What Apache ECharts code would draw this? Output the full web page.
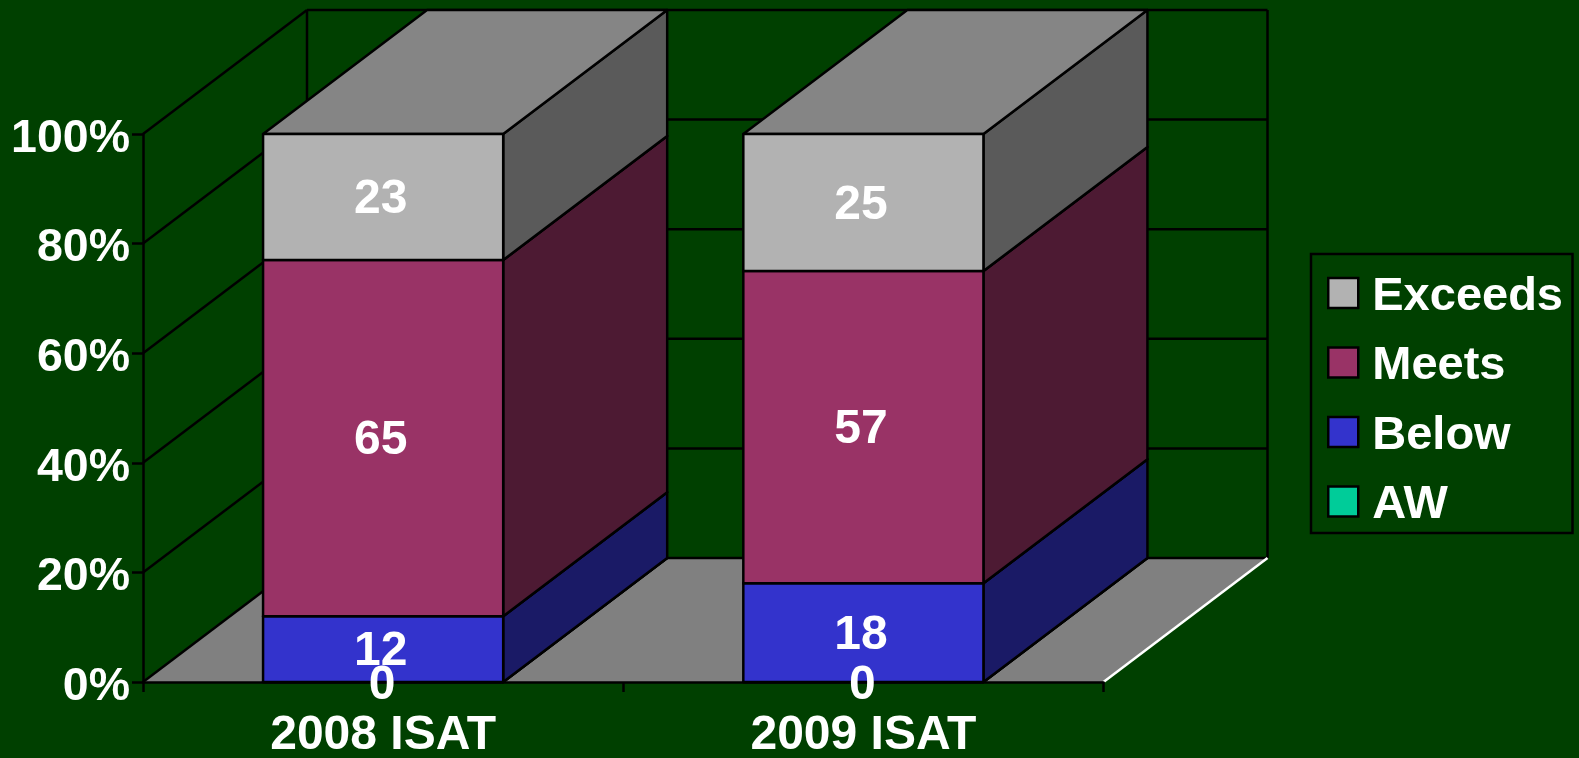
<!DOCTYPE html>
<html><head><meta charset="utf-8">
<style>html,body{margin:0;padding:0;background:#004000}#c{width:1579px;height:758px}</style>
<script src="https://cdn.jsdelivr.net/npm/echarts@6/dist/echarts.min.js"></script>
</head><body><div id="c"></div>
<script>
const categories = ['2008 ISAT', '2009 ISAT'];
const aw = [0, 0];
const below = [12, 18];
const meets = [65, 57];
const exceeds = [23, 25];
const ticks = [0, 20, 40, 60, 80, 100];

const DX = 164, DY = 124;
const LW = 2.5;
const FONT = '"Liberation Sans", Arial, sans-serif';
const BG = '#004000';

const chart = echarts.init(document.getElementById('c'), null, {renderer: 'canvas'});

function stackSeries(name, values, base, front, side, top) {
  return {
    name, type: 'custom', coordinateSystem: 'cartesian2d', z: 2,
    itemStyle: {color: front},
    data: values.map((v, i) => [i, v, base[i]]),
    encode: {x: 0, y: 1},
    renderItem(params, api) {
      const i = api.value(0), v = api.value(1), b = api.value(2);
      const w = api.size([1, 0])[0] / 2;
      const pLow = api.coord([i, b]), pHigh = api.coord([i, b + v]);
      const l = pLow[0] - w / 2, r = pLow[0] + w / 2, y0 = pLow[1], y1 = pHigh[1];
      const edge = {stroke: '#000', lineWidth: LW, lineJoin: 'round'};
      const poly = (pts, fill) => ({type: 'polygon', shape: {points: pts}, style: {fill, ...edge}});
      return {type: 'group', children: [
        poly([[r, y0], [r + DX, y0 - DY], [r + DX, y1 - DY], [r, y1]], side),
        poly([[l, y1], [r, y1], [r + DX, y1 - DY], [l + DX, y1 - DY]], top),
        poly([[l, y0], [r, y0], [r, y1], [l, y1]], front),
        {type: 'text', z2: 50, style: {
          text: String(v), x: pLow[0] - (v === 0 ? 1 : 2.5), y: (y0 + y1) / 2 + (v === 0 ? 4 : 3),
          fill: '#fff', font: 'bold 48px ' + FONT, align: 'center', verticalAlign: 'middle'}}
      ]};
    }
  };
}

const zeros = categories.map(() => 0);
const baseBelow = aw.map((v, i) => v);
const baseMeets = below.map((v, i) => v + aw[i]);
const baseExceeds = meets.map((v, i) => v + baseMeets[i]);

const wallSeries = {
  type: 'custom', coordinateSystem: 'cartesian2d', z: 0, silent: true,
  data: ticks.map(t => [0, t]),
  encode: {x: 0, y: 1},
  renderItem(params, api) {
    const t = api.value(1);
    const y = api.coord([0, t])[1];
    const L = params.coordSys.x, R = L + params.coordSys.width;
    const line = {stroke: '#000', lineWidth: LW};
    const seg = (a, b, style) => ({type: 'line', shape: {x1: a[0], y1: a[1], x2: b[0], y2: b[1]}, style});
    const children = [
      seg([L, y], [L + DX, y - DY], line),
      seg([L + DX, y - DY], [R + DX, y - DY], line)
    ];
    if (t === 0) {
      const top = api.coord([0, ticks[ticks.length - 1]])[1];
      children.unshift({type: 'polygon', shape: {points: [[L, y], [L + DX, y - DY], [R + DX, y - DY], [R, y]]},
        style: {fill: '#808080'}});
      children.push(seg([L + DX, y - DY], [L + DX, top - DY], line));
      children.push(seg([R + DX, y - DY], [R + DX, top - DY], line));
      children.push(seg([R, y], [R + DX, y - DY], {stroke: '#fff', lineWidth: LW}));
    }
    return {type: 'group', children};
  }
};

chart.setOption({
  animation: false,
  backgroundColor: BG,
  grid: {left: 143, top: 134, width: 960.5, height: 548, containLabel: false, outerBoundsMode: 'none'},
  xAxis: {
    type: 'category', data: categories, z: 1,
    axisLine: {lineStyle: {color: '#000', width: LW}},
    axisTick: {show: true, length: 10, alignWithLabel: false, lineStyle: {color: '#000', width: LW}},
    axisLabel: {color: '#fff', fontFamily: FONT, fontWeight: 'bold', fontSize: 48, margin: 30, interval: 0}
  },
  yAxis: {
    type: 'value', min: 0, max: 100, interval: 20, z: 1,
    axisLine: {show: true, lineStyle: {color: '#000', width: LW}},
    axisTick: {show: true, length: 11, lineStyle: {color: '#000', width: LW}},
    splitLine: {show: false},
    axisLabel: {formatter: '{a|{value}%}', margin: 13,
      rich: {a: {color: '#fff', fontFamily: FONT, fontWeight: 'bold', fontSize: 46.5, padding: [10, 0, 0, 0]}}}
  },
  legend: {
    left: 1311, top: 254, orient: 'vertical',
    padding: [19.5, 9.5, 4, 16],
    itemWidth: 30, itemHeight: 30, itemGap: 22.5,
    borderColor: '#000', borderWidth: LW,
    formatter: '{a|{name}}',
    data: ['Exceeds', 'Meets', 'Below', 'AW'].map(name => ({name, icon: 'rect',
      itemStyle: {borderColor: '#000', borderWidth: LW}})),
    textStyle: {rich: {a: {color: '#fff', fontFamily: FONT, fontWeight: 'bold', fontSize: 47, padding: [8, 0, 0, 9]}}}
  },
  series: [
    wallSeries,
    stackSeries('AW', aw, zeros, '#00cc99', '#00664d', '#00a37a'),
    stackSeries('Below', below, baseBelow, '#3333cc', '#1a1a66', '#2929a3'),
    stackSeries('Meets', meets, baseMeets, '#993366', '#4d1a33', '#7a2952'),
    stackSeries('Exceeds', exceeds, baseExceeds, '#b2b2b2', '#5a5a5a', '#858585')
  ]
});
</script></body></html>
